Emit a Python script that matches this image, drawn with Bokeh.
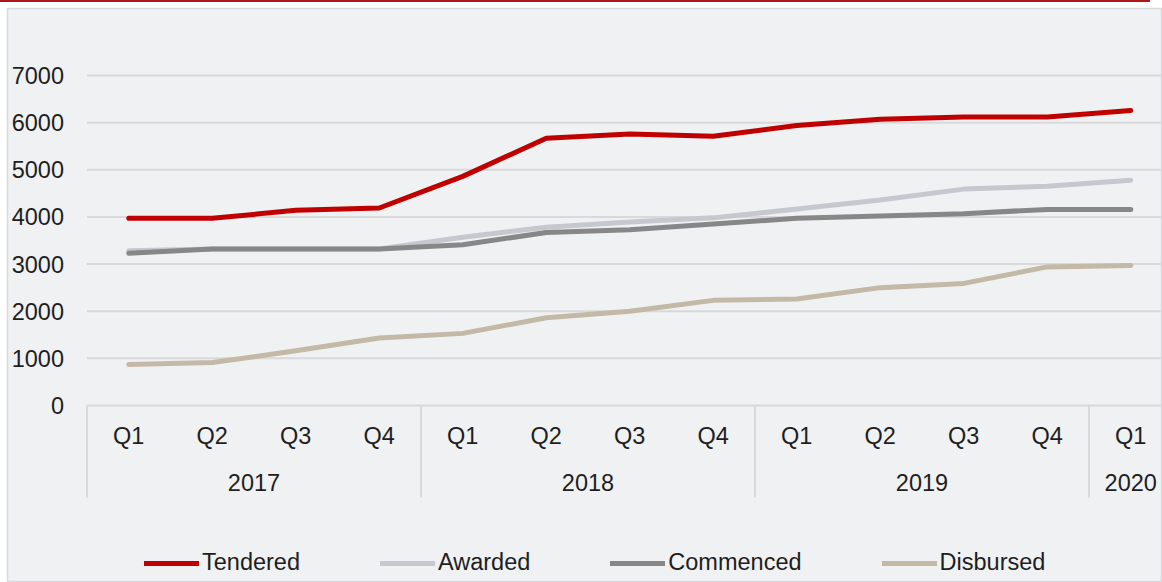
from bokeh.plotting import figure
from bokeh.models import (Range1d, LinearAxis, FixedTicker, Legend, LegendItem,
                          ColumnDataSource, Div)
from bokeh.layouts import column
from bokeh.embed import file_html
from bokeh.resources import INLINE

# ---- data ----
years = ["2017", "2017", "2017", "2017", "2018", "2018", "2018", "2018",
         "2019", "2019", "2019", "2019", "2020"]
quarters = ["Q1", "Q2", "Q3", "Q4", "Q1", "Q2", "Q3", "Q4",
            "Q1", "Q2", "Q3", "Q4", "Q1"]
tendered = [3970, 3970, 4140, 4190, 4860, 5670, 5760, 5710, 5940, 6070, 6120, 6120, 6260]
awarded = [3280, 3320, 3320, 3320, 3570, 3780, 3890, 3980, 4170, 4360, 4590, 4650, 4780]
commenced = [3230, 3320, 3320, 3320, 3410, 3670, 3730, 3850, 3970, 4020, 4070, 4160, 4160]
disbursed = [870, 910, 1160, 1430, 1530, 1860, 2000, 2230, 2260, 2500, 2590, 2940, 2970]
y_ticks = [0, 1000, 2000, 3000, 4000, 5000, 6000, 7000]

series_names = ["Tendered", "Awarded", "Commenced", "Disbursed"]
series_values = [tendered, awarded, commenced, disbursed]
series_colors = ["#c00000", "#c5c8cf", "#878787", "#c4b8a6"]

FONT = "Liberation Sans"
FS = "23.5px"
TEXT = "#1e1e1e"
BG = "#f0f1f3"
GRID = "#d9d9db"

# page geometry (figure placed at page y=2, below a 2px red bar)
W, H = 1162, 580
FIG_TOP = 2
FRAME_L, FRAME_T = 7, 8          # page px
PLOT_L = 86.5                    # page px of first category's left edge
CAT_W = 83.5
PX_PER_UNIT = 330 / 7000.0
ZERO_PAGE, TOP7000_PAGE = 405, 75

xs = list(range(len(quarters)))
x_first = -0.5
x_start = x_first - (PLOT_L - FRAME_L) / CAT_W
x_end = x_first + (W - PLOT_L) / CAT_W
y_end = 7000 + (TOP7000_PAGE - FRAME_T) / PX_PER_UNIT
y_start = -(FIG_TOP + H - ZERO_PAGE) / PX_PER_UNIT

p = figure(width=W, height=H, output_backend="svg", toolbar_location=None,
           x_axis_type=None, y_axis_type=None,
           x_range=Range1d(x_start, x_end), y_range=Range1d(y_start, y_end),
           min_border_left=FRAME_L, min_border_right=0,
           min_border_top=FRAME_T - FIG_TOP, min_border_bottom=0,
           background_fill_color=BG, border_fill_color="white",
           outline_line_color="#d8d9dc", outline_line_width=1.5, margin=0)

# horizontal gridlines (start at the plot's left edge)
p.segment(x0=[x_first] * len(y_ticks), x1=[x_end] * len(y_ticks),
          y0=y_ticks, y1=y_ticks, line_color=GRID, line_width=2)

# group separators (from the year categories)
bounds = [x_first] + [i - 0.5 for i in range(1, len(years)) if years[i] != years[i - 1]]
sep_bottom = -92 / PX_PER_UNIT
p.segment(x0=bounds, x1=bounds, y0=[0] * len(bounds), y1=[sep_bottom] * len(bounds),
          line_color=GRID, line_width=2)

# y axis
yaxis = LinearAxis(ticker=FixedTicker(ticks=y_ticks), fixed_location=x_first)
# quarter labels axis
qaxis = LinearAxis(ticker=FixedTicker(ticks=xs), fixed_location=0,
                   major_label_overrides={i: q for i, q in zip(xs, quarters)})
# year labels axis
ycent = {}
for i, yv in enumerate(years):
    ycent.setdefault(yv, []).append(i)
year_pos = [sum(v) / len(v) for v in ycent.values()]
year_lab = list(ycent.keys())
yraxis = LinearAxis(ticker=FixedTicker(ticks=year_pos), fixed_location=0,
                    major_label_overrides={pos: lab for pos, lab in zip(year_pos, year_lab)})
for ax, so, side in ((yaxis, 17, "left"), (qaxis, 11, "below"), (yraxis, 62, "below")):
    ax.axis_line_color = None
    ax.major_tick_line_color = None
    ax.minor_tick_line_color = None
    ax.major_label_standoff = so
    ax.major_label_text_font = FONT
    ax.major_label_text_font_size = FS
    ax.major_label_text_color = TEXT
    p.add_layout(ax, side)

# lines
items = []
for name, vals, col in zip(series_names, series_values, series_colors):
    src = ColumnDataSource(dict(x=xs, y=vals))
    r = p.line("x", "y", source=src, line_color=col, line_width=5,
               line_cap="round", line_join="round")
    items.append(LegendItem(label=name, renderers=[r]))

legend = Legend(items=items, orientation="horizontal", location=(137, 6),
                glyph_width=55, glyph_height=26, label_standoff=3, spacing=80,
                padding=0, margin=0, border_line_color=None, background_fill_alpha=0,
                label_text_font=FONT, label_text_font_size=FS,
                label_text_color=TEXT, label_height=26)
p.add_layout(legend)

bar = Div(width=1150, height=2, margin=0, styles={"background-color": "#b3141c"})
page = column(bar, p, spacing=0, margin=0)

open("out.html", "w").write(file_html(page, INLINE))
